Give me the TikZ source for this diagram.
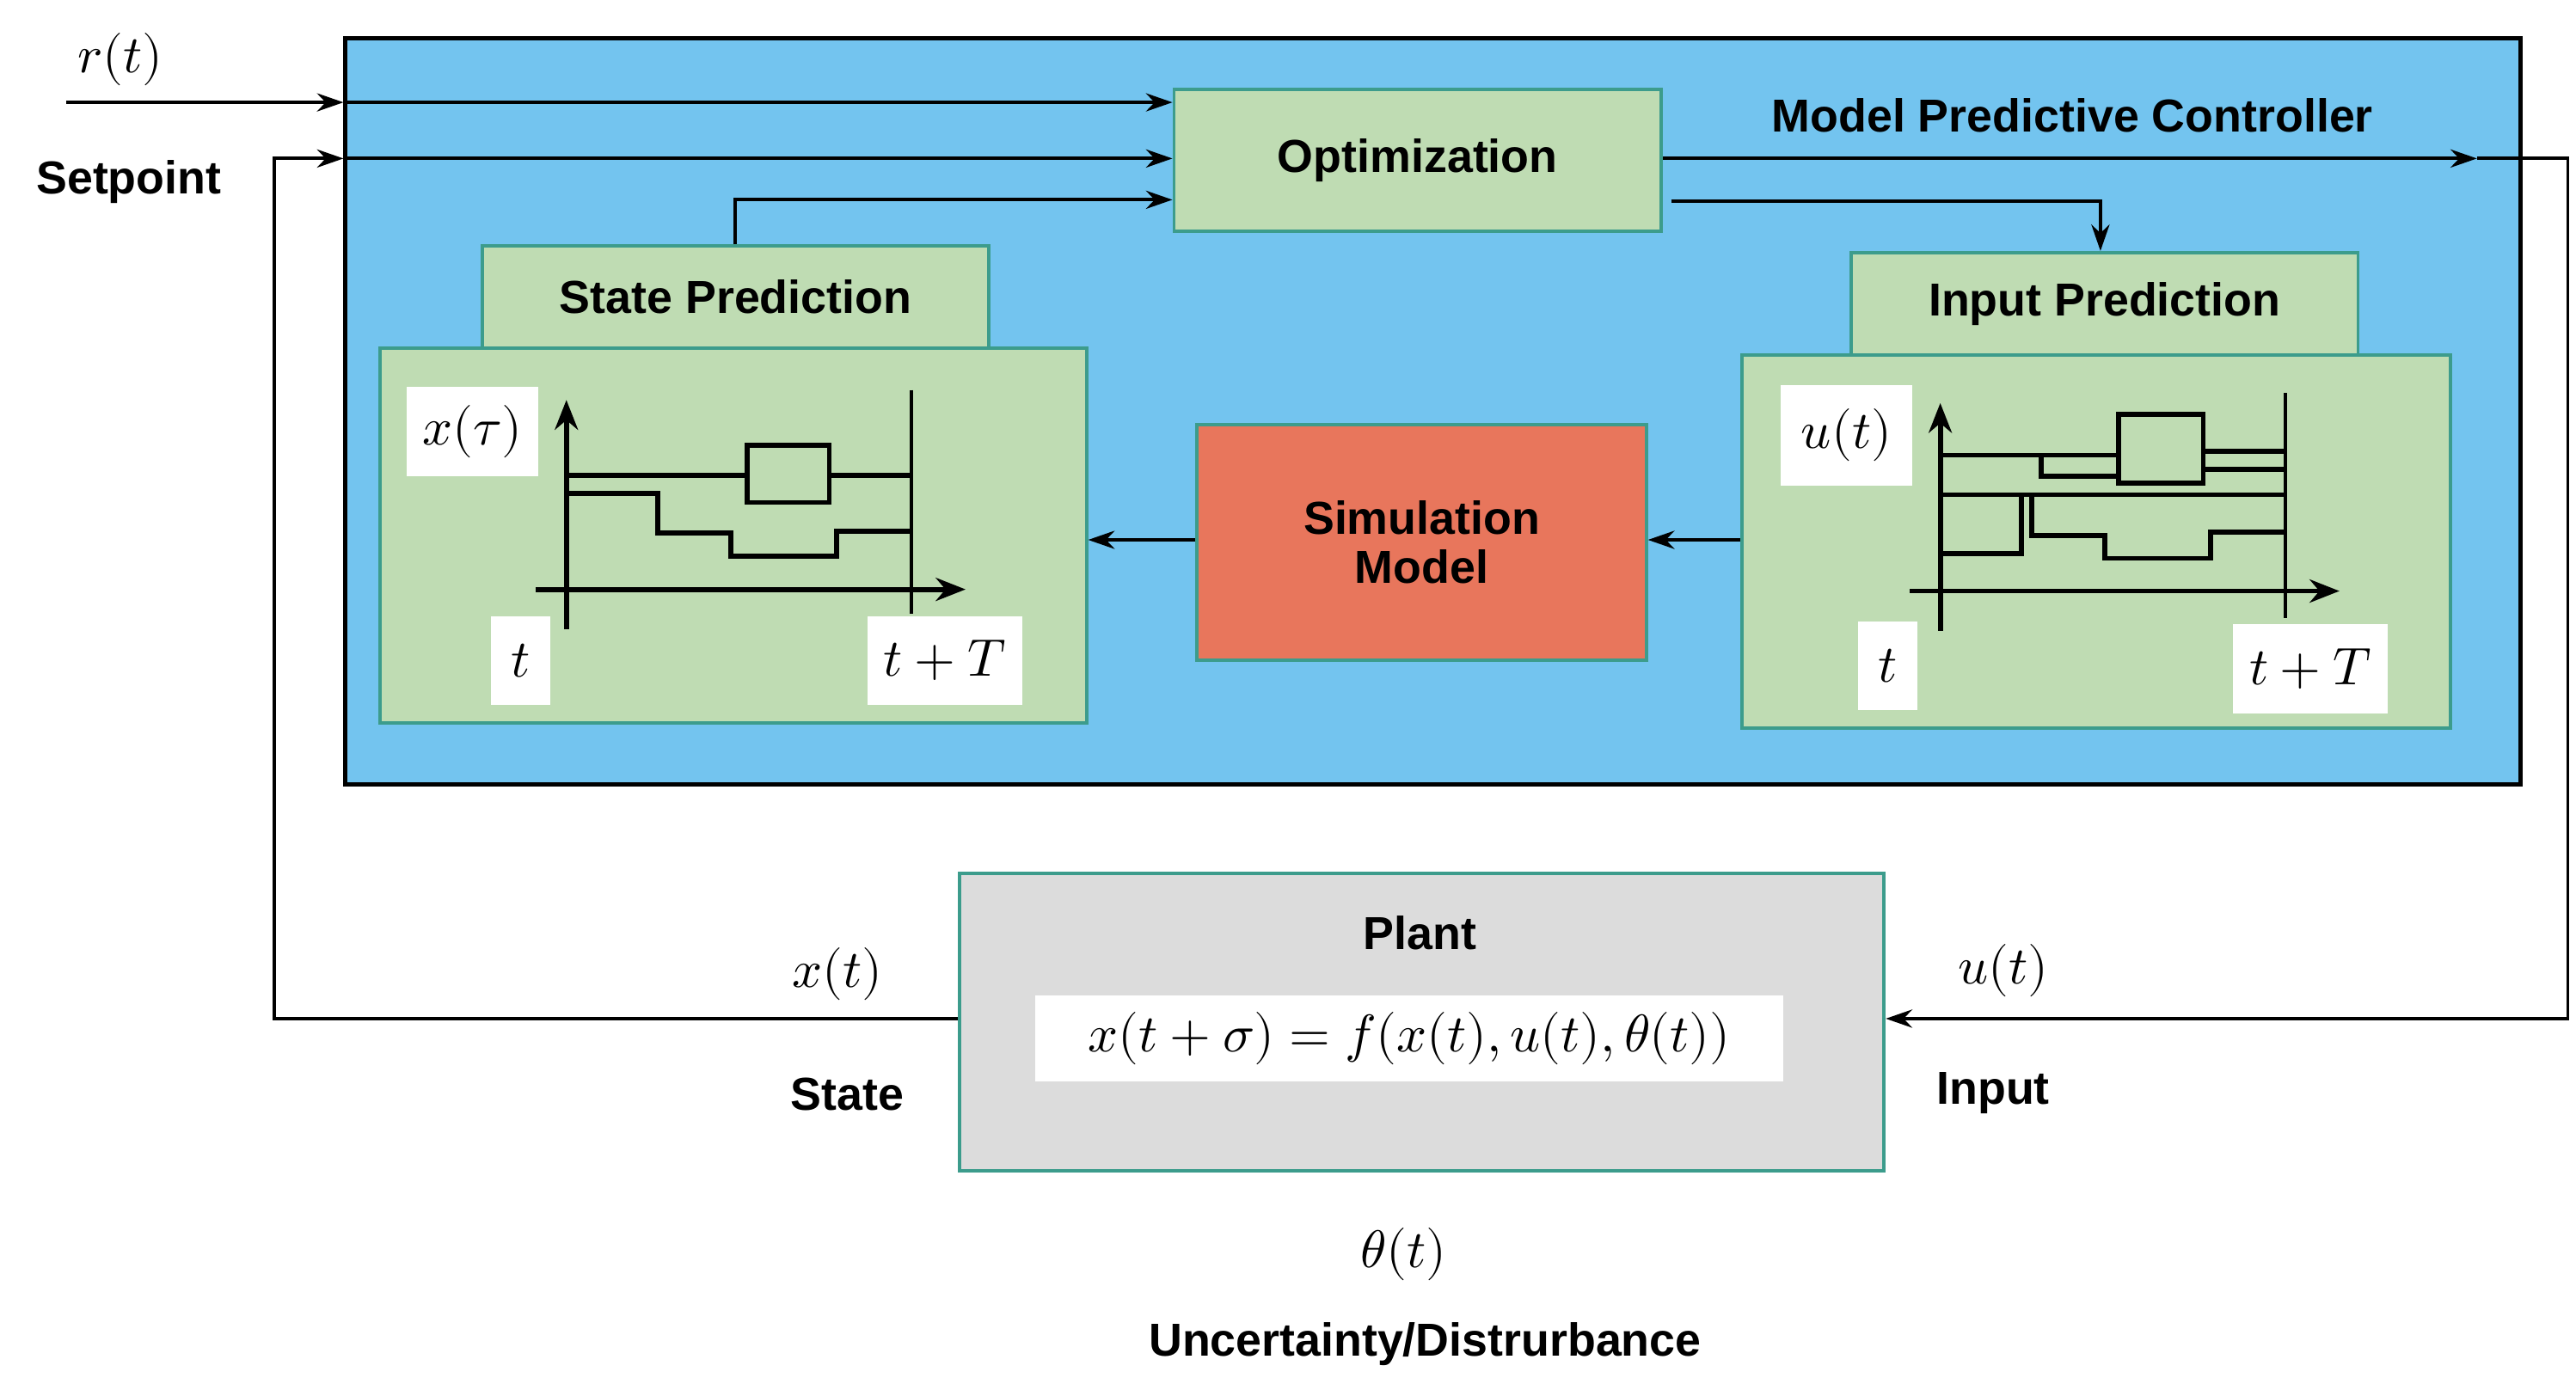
\documentclass[tikz,border=0pt]{standalone}
\usepackage{fontspec}
\setmainfont{Liberation Sans}
\usepackage{unicode-math}
\setmathfont{Latin Modern Math}
\usetikzlibrary{arrows.meta}
\definecolor{mpcblue}{HTML}{73C4EF}
\definecolor{pgreen}{HTML}{BFDCB3}
\definecolor{teal2}{HTML}{3C9C8C}
\definecolor{simred}{HTML}{E8765C}
\definecolor{pgrey}{HTML}{DCDCDC}
\begin{document}
\begin{tikzpicture}[x=1pt,y=-1pt,
  box/.style={draw=teal2,line width=2pt,fill=pgreen},
  lbl/.style={font=\fontsize{28}{30}\selectfont\bfseries},
  mth/.style={font=\fontsize{32}{34}\selectfont},
  wbox/.style={fill=white,inner sep=0pt},
  arr/.style={line width=2pt,-{Stealth[length=16pt,width=11pt]}},
  ln/.style={line width=2pt},
  pl/.style={line width=3pt}]
\useasboundingbox (0,0) rectangle (1560,838);
% MPC frame
\node[draw=black,line width=2.5pt,fill=mpcblue,minimum width=1317pt,minimum height=452pt,anchor=north west,inner sep=0] (mpc) at (208,22) {};
\node[box,minimum width=295pt,minimum height=86pt,anchor=north west,inner sep=0] (opt) at (710,53) {};
\node[lbl] at (opt.center) {Optimization};
% state prediction
\node[box,minimum width=307pt,minimum height=62pt,anchor=north west,inner sep=0] (sptab) at (291,148) {};
\node[lbl] at (sptab.center) {State Prediction};
\node[box,minimum width=428pt,minimum height=227pt,anchor=north west,inner sep=0] (spbox) at (229,210) {};
% input prediction
\node[box,minimum width=307pt,minimum height=62pt,anchor=north west,inner sep=0] (iptab) at (1120,152) {};
\node[lbl] at (iptab.center) {Input Prediction};
\node[box,minimum width=429pt,minimum height=226pt,anchor=north west,inner sep=0] (ipbox) at (1054,214) {};
% simulation
\node[draw=teal2,line width=2pt,fill=simred,minimum width=272pt,minimum height=143pt,anchor=north west,inner sep=0] (sim) at (724,256) {};
\node[lbl,align=center] at (sim.center) {Simulation\\Model};
% plant
\node[draw=teal2,line width=2pt,fill=pgrey,minimum width=560pt,minimum height=180pt,anchor=north west,inner sep=0] (plant) at (580,528) {};
\node[lbl] at (860,565) {Plant};
\node[wbox,minimum width=453pt,minimum height=52pt,mth] (eq) at (853.5,629) {$x(t+\sigma)=f(x(t),u(t),\theta(t))$};
% left plot
\node[wbox,minimum width=80pt,minimum height=54pt,anchor=north west,mth] at (246,234) {$x(\tau)$};
\node[wbox,minimum width=36pt,minimum height=54pt,anchor=north west,mth] at (297,373) {$t$};
\node[wbox,minimum width=94pt,minimum height=54pt,anchor=north west,mth] at (525,373) {$t+T$};
\begin{scope}[shift={(343,357)},xscale=0.2844,yscale=0.1725]
 \draw[pl,-{Stealth[length=18pt,width=14pt]}] (0,140) -- (0,-665);
 \draw[pl,-{Stealth[length=18pt,width=14pt]}] (-65,0) -- (850,0);
 \draw[ln] (735,-700) -- (735,85);
 \draw[pl] (0,-400) -- (385,-400) (385,-505) rectangle (560,-305) (560,-400) -- (735,-400);
 \draw[pl] (0,-338) -- (195,-338) -- (195,-197) -- (350,-197) -- (350,-117) -- (575,-117) -- (575,-205) -- (735,-205);
\end{scope}
% right plot
\node[wbox,minimum width=80pt,minimum height=61pt,anchor=north west,mth] at (1078,233) {$u(t)$};
\node[wbox,minimum width=36pt,minimum height=54pt,anchor=north west,mth] at (1125,376) {$t$};
\node[wbox,minimum width=94pt,minimum height=54pt,anchor=north west,mth] at (1352,378) {$t+T$};
\begin{scope}[shift={(1175,358)},xscale=0.2844,yscale=0.1725]
 \draw[pl,-{Stealth[length=18pt,width=14pt]}] (0,140) -- (0,-660);
 \draw[pl,-{Stealth[length=18pt,width=14pt]}] (-65,0) -- (850,0);
 \draw[ln] (735,-695) -- (735,95);
 \draw[pl] (0,-477) -- (380,-477) (380,-620) rectangle (560,-380);
 \draw[pl] (215,-477) -- (215,-402) -- (380,-402);
 \draw[pl] (560,-490) -- (735,-490) (560,-428) -- (735,-428);
 \draw[pl] (0,-338) -- (735,-338);
 \draw[pl] (0,-132) -- (173,-132) -- (173,-330);
 \draw[pl] (195,-330) -- (195,-195) -- (350,-195) -- (350,-115) -- (575,-115) -- (575,-208) -- (735,-208);
\end{scope}
% connectors
\coordinate (rin) at (40,62);
\coordinate (r1) at (208,62);
\draw[arr] (rin) -- (r1);
\draw[arr] (r1) -- (opt.west |- r1);
\coordinate (fb1) at (166,617);
\coordinate (fb2) at (166,96);
\coordinate (s1) at (208,96);
\draw[arr] (plant.west |- fb1) -- (fb1) -- (fb2) -- (s1);
\draw[arr] (s1) -- (opt.west |- s1);
\coordinate (sp1) at (445,121);
\draw[arr] (sptab.north -| sp1) -- (sp1) -- (opt.west |- sp1);
\coordinate (o1) at (1500,96);
\coordinate (o2) at (1555,96);
\coordinate (o3) at (1555,617);
\draw[arr] (opt.east |- o1) -- (o1);
\draw[arr] (o1) -- (o2) -- (o3) -- (plant.east |- o3);
\coordinate (q1) at (1012,122);
\coordinate (q2) at (1272,122);
\draw[arr] (q1) -- (q2) -- (iptab.north -| q2);
\draw[arr] (ipbox.west |- 0,327) -- (sim.east |- 0,327);
\draw[arr] (sim.west |- 0,327) -- (spbox.east |- 0,327);
% labels
\node[mth] at (73,36) {$r(t)$};
\node[lbl] at (78,110) {Setpoint};
\node[lbl] at (1255,70) {Model Predictive Controller};
\node[mth] at (507,590) {$x(t)$};
\node[lbl] at (513,663) {State};
\node[mth] at (1213,588) {$u(t)$};
\node[lbl] at (1207,662) {Input};
\node[mth] at (850,760) {$\theta(t)$};
\node[lbl] at (863,814) {Uncertainty/Distrurbance};
\end{tikzpicture}
\end{document}
